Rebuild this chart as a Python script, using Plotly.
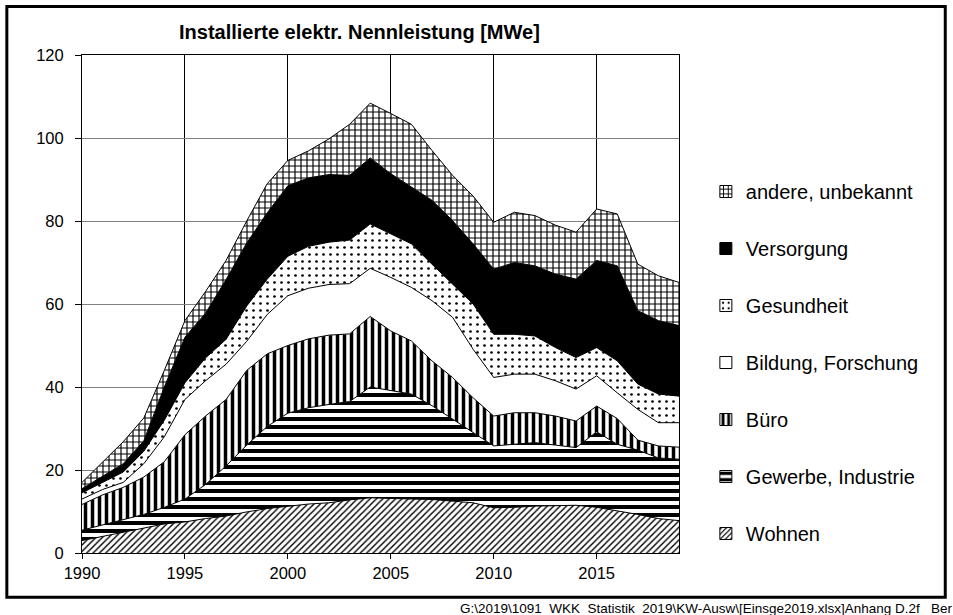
import plotly.graph_objects as go

years = list(range(1990, 2020))

# installed capacity per sector [MWe] (not cumulative)
wohnen = [3.0, 4.0, 5.0, 6.0, 7.0, 7.5, 8.3, 8.9, 9.9, 10.7, 11.3, 11.8, 12.1, 12.8, 13.3,
          13.1, 13.0, 12.9, 12.5, 12.1, 10.9, 11.0, 11.3, 11.4, 11.5, 11.0, 10.2, 9.3, 8.3, 7.8]
gewerbe = [2.5, 2.8, 3.0, 3.3, 4.0, 5.5, 8.2, 12.1, 16.1, 19.8, 22.4, 23.2, 23.7, 23.7, 26.7,
           26.1, 25.3, 22.6, 19.8, 16.9, 14.9, 15.2, 15.3, 14.6, 13.9, 18.2, 16.0, 15.5, 14.6, 14.8]
buero = [6.2, 7.2, 7.8, 9.0, 11.0, 15.5, 16.5, 16.0, 18.0, 17.5, 16.3, 16.6, 16.7, 16.3, 17.0,
         14.3, 12.8, 10.8, 10.0, 8.4, 7.2, 7.6, 7.2, 7.0, 6.4, 6.2, 6.2, 2.4, 2.9, 2.9]
bildung = [1.3, 1.3, 1.2, 3.2, 6.0, 8.5, 8.5, 8.5, 7.0, 9.5, 12.0, 12.2, 12.2, 12.1, 11.6,
           12.9, 12.9, 14.5, 14.5, 11.7, 9.3, 9.3, 9.3, 8.5, 7.7, 7.3, 6.2, 7.4, 5.6, 5.9]
gesundheit = [1.5, 1.7, 2.5, 3.0, 4.0, 4.0, 5.5, 6.0, 8.5, 8.5, 9.5, 10.1, 10.2, 10.5, 10.7,
              10.5, 10.5, 8.8, 8.0, 10.9, 10.4, 9.6, 9.2, 8.0, 7.6, 6.8, 7.7, 6.1, 6.9, 6.4]
versorgung = [1.0, 1.5, 2.0, 2.5, 8.0, 11.0, 10.8, 14.4, 15.2, 16.0, 17.0, 16.5, 16.3, 15.6, 15.9,
              14.5, 13.7, 15.4, 15.3, 14.5, 15.7, 17.3, 16.9, 17.7, 18.9, 21.0, 22.9, 17.7, 17.7, 17.0]
andere = [1.5, 3.5, 5.3, 5.5, 4.0, 4.0, 5.2, 4.6, 5.3, 7.0, 6.1, 6.5, 8.6, 12.3, 13.2,
          14.5, 15.1, 12.0, 10.9, 11.5, 11.3, 12.1, 12.1, 11.8, 11.3, 12.4, 12.5, 11.2, 10.8, 10.4]

FONT = "Arial, Liberation Sans, sans-serif"

# (name, values, pattern) from bottom of the stack to the top
series = [
    ("Wohnen", wohnen, dict(shape="/", size=4.5, solidity=0.32)),
    ("Gewerbe, Industrie", gewerbe, dict(shape="-", size=8, solidity=0.5)),
    ("Büro", buero, dict(shape="|", size=7, solidity=0.5)),
    ("Bildung, Forschung", bildung, None),
    ("Gesundheit", gesundheit, dict(shape=".", size=7, solidity=0.12)),
    ("Versorgung", versorgung, "solid"),
    ("andere, unbekannt", andere, dict(shape="+", size=6, solidity=0.35)),
]

fig = go.Figure()

for name, vals, pat in series:
    kw = {}
    if pat is None:
        kw["fillcolor"] = "white"
    elif pat == "solid":
        kw["fillcolor"] = "black"
    else:
        kw["fillcolor"] = "white"
        kw["fillpattern"] = dict(fgcolor="black", bgcolor="white", fgopacity=1, **pat)
    fig.add_trace(go.Scatter(
        x=years, y=vals, name=name, stackgroup="one", mode="lines",
        line=dict(color="black", width=1), showlegend=False, **kw,
    ))

# legend entries as small squares (top entry first)
for i, (name, vals, pat) in enumerate(reversed(series)):
    if pat is None:
        marker = dict(color="white")
    elif pat == "solid":
        marker = dict(color="black")
    else:
        marker = dict(color="white",
                      pattern=dict(fgcolor="black", bgcolor="white", fgopacity=1, **pat))
    marker["line"] = dict(color="black", width=1)
    fig.add_trace(go.Bar(x=[None], y=[None], name=name, marker=marker,
                         legendgroup=f"g{i}", showlegend=True))

fig.add_annotation(
    text="<b>Installierte elektr. Nennleistung [MWe]</b>",
    x=0.465, y=1.047, xref="paper", yref="paper", showarrow=False,
    xanchor="center", yanchor="middle", font=dict(size=20, color="black", family=FONT),
)
fig.add_annotation(
    text="G:\\2019\\1091_WKK_Statistik_2019\\KW-Ausw\\[Einsge2019.xlsx]Anhang D.2f   Ber",
    x=(458 - 81.7) / 597.4, y=-0.111, xref="paper", yref="paper", showarrow=False,
    xanchor="left", yanchor="middle", font=dict(size=13.5, color="black", family=FONT),
)

# outer chart frame
fig.add_shape(type="rect", xref="paper", yref="paper",
              x0=-0.1259, x1=1.446, y0=-0.089, y1=1.0975,
              line=dict(color="black", width=3))

fig.update_layout(
    width=953, height=615,
    margin=dict(l=82, r=274, t=55, b=62),
    paper_bgcolor="white", plot_bgcolor="white",
    font=dict(family=FONT, color="black"),
    legend=dict(
        x=1.045, y=0.765, xanchor="left", yanchor="top",
        font=dict(size=20), traceorder="grouped", tracegroupgap=28,
        bgcolor="rgba(0,0,0,0)",
    ),
    xaxis=dict(
        range=[1990, 2019], tick0=1990, dtick=5,
        showgrid=True, gridcolor="black", gridwidth=1,
        showline=True, linecolor="black", linewidth=1, mirror=True,
        ticks="outside", ticklen=5, tickcolor="black",
        tickfont=dict(size=16.5), zeroline=False,
    ),
    yaxis=dict(
        range=[0, 120], dtick=20,
        showgrid=True, gridcolor="#808080", gridwidth=1,
        showline=True, linecolor="black", linewidth=1, mirror=True,
        ticks="outside", ticklen=6, tickcolor="black",
        tickfont=dict(size=16.5), zeroline=False, ticklabelstandoff=8,
    ),
)

fig.write_html("out.html", config={"displayModeBar": False},
               post_script="document.body.style.margin='0px';")
